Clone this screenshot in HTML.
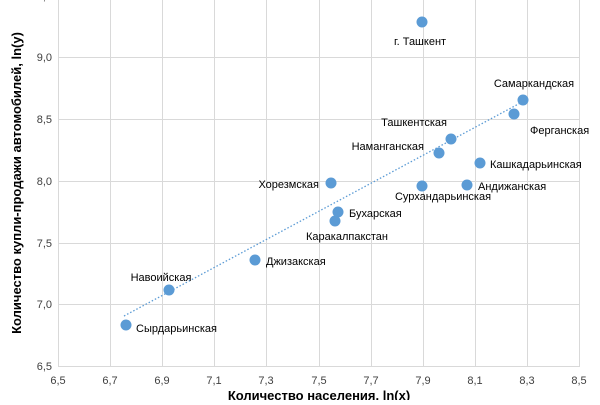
<!DOCTYPE html><html><head><meta charset="utf-8"><style>body{margin:0;background:#fff}</style></head><body>
<svg width="600" height="400" xmlns="http://www.w3.org/2000/svg" font-family="Liberation Sans, sans-serif">
<rect width="600" height="400" fill="#fff"/>
<g stroke="#d9d9d9" stroke-width="1">
<line x1="58.5" y1="0" x2="58.5" y2="366"/><line x1="110.5" y1="0" x2="110.5" y2="366"/><line x1="162.5" y1="0" x2="162.5" y2="366"/><line x1="214.5" y1="0" x2="214.5" y2="366"/><line x1="266.5" y1="0" x2="266.5" y2="366"/><line x1="319.5" y1="0" x2="319.5" y2="366"/><line x1="371.5" y1="0" x2="371.5" y2="366"/><line x1="423.5" y1="0" x2="423.5" y2="366"/><line x1="475.5" y1="0" x2="475.5" y2="366"/><line x1="527.5" y1="0" x2="527.5" y2="366"/><line x1="579.5" y1="0" x2="579.5" y2="366"/>
<line x1="58" y1="57.5" x2="580" y2="57.5"/><line x1="58" y1="119.5" x2="580" y2="119.5"/><line x1="58" y1="181.5" x2="580" y2="181.5"/><line x1="58" y1="243.5" x2="580" y2="243.5"/><line x1="58" y1="304.5" x2="580" y2="304.5"/><line x1="58" y1="366.5" x2="580" y2="366.5"/>
</g>
<g font-size="11" fill="#404040" text-anchor="end">
<text x="52" y="61">9,0</text><text x="52" y="123">8,5</text><text x="52" y="185">8,0</text><text x="52" y="247">7,5</text><text x="52" y="308">7,0</text><text x="52" y="370">6,5</text><text x="52" y="0">9,5</text>
</g>
<g font-size="11" fill="#404040" text-anchor="middle">
<text x="58" y="384">6,5</text><text x="110" y="384">6,7</text><text x="162" y="384">6,9</text><text x="214" y="384">7,1</text><text x="266" y="384">7,3</text><text x="319" y="384">7,5</text><text x="371" y="384">7,7</text><text x="423" y="384">7,9</text><text x="475" y="384">8,1</text><text x="527" y="384">8,3</text><text x="579" y="384">8,5</text>
</g>
<text x="319" y="400" font-size="13" font-weight="bold" text-anchor="middle" fill="#000">Количество населения, ln(x)</text>
<text transform="translate(21,183) rotate(-90)" font-size="13" font-weight="bold" text-anchor="middle" fill="#000">Количество купли-продажи автомобилей, ln(y)</text>
<line x1="124" y1="316" x2="524" y2="101" stroke="#5b9bd5" stroke-width="1.3" stroke-dasharray="1.5,2"/>
<g fill="#5b9bd5">
<circle cx="422" cy="22" r="5.5"/><circle cx="523" cy="100" r="5.5"/><circle cx="514" cy="114" r="5.5"/><circle cx="451" cy="139" r="5.5"/><circle cx="439" cy="153" r="5.5"/><circle cx="480" cy="163" r="5.5"/><circle cx="331" cy="183" r="5.5"/><circle cx="422" cy="186" r="5.5"/><circle cx="467" cy="185" r="5.5"/><circle cx="338" cy="212" r="5.5"/><circle cx="335" cy="221" r="5.5"/><circle cx="255" cy="260" r="5.5"/><circle cx="169" cy="290" r="5.5"/><circle cx="126" cy="325" r="5.5"/>
</g>
<g font-size="11" fill="#000">
<text x="420" y="45" text-anchor="middle">г. Ташкент</text>
<text x="534" y="87" text-anchor="middle">Самаркандская</text>
<text x="530" y="134">Ферганская</text>
<text x="447" y="126" text-anchor="end">Ташкентская</text>
<text x="424" y="150" text-anchor="end">Наманганская</text>
<text x="490" y="168">Кашкадарьинская</text>
<text x="319" y="188" text-anchor="end">Хорезмская</text>
<text x="443" y="200" text-anchor="middle">Сурхандарьинская</text>
<text x="478" y="190">Андижанская</text>
<text x="349" y="217">Бухарская</text>
<text x="347" y="240" text-anchor="middle">Каракалпакстан</text>
<text x="266" y="265">Джизакская</text>
<text x="161" y="281" text-anchor="middle">Навоийская</text>
<text x="136" y="332">Сырдарьинская</text>
</g>
</svg></body></html>
